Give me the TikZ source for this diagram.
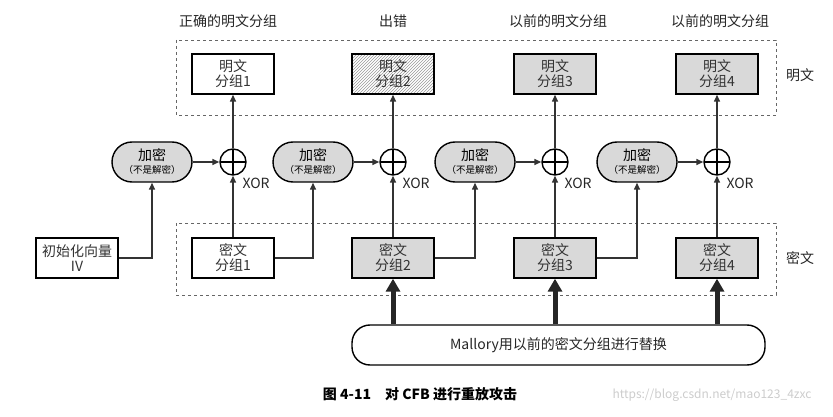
\documentclass[tikz,border=0pt]{standalone}
\usepackage{fontspec}
\setmainfont{Noto Sans CJK SC}
\usetikzlibrary{arrows.meta,patterns,shapes.geometric}
\begin{document}
\begin{tikzpicture}[x=1pt,y=-1pt,
  blk/.style={draw,line width=1.4pt,minimum width=82pt,minimum height=40pt,inner sep=0pt,align=center,font=\fontsize{14}{15}\selectfont,text=black!80},
  grey/.style={fill=black!15},
  enc/.style={draw,line width=1.4pt,fill=black!15,rounded corners=20pt,minimum width=80pt,minimum height=40pt,inner sep=0pt,align=center,font=\fontsize{14}{15}\selectfont},
  xr/.style={draw,circle,line width=1.4pt,minimum size=26pt,inner sep=0pt,path picture={\draw[line width=1.4pt] (path picture bounding box.north)--(path picture bounding box.south) (path picture bounding box.west)--(path picture bounding box.east);}},
  con/.style={line width=1.4pt,draw=black!80,-{Triangle[length=7pt,width=6pt]}},
  big/.style={line width=5pt,draw=black!85,-{Triangle[length=13pt,width=14pt]}},
  dbox/.style={draw=black!60,dashed,line width=0.6pt},
  lab/.style={font=\fontsize{14}{15}\selectfont,text=black!85}]
\useasboundingbox (0,0) rectangle (833,417);
\draw[dbox] (176,40) rectangle (776,115);
\draw[dbox] (176,223) rectangle (776,295);
\node[lab] (tm) at (800,75) {明文};
\node[lab] (tc) at (800,258) {密文};
\node[lab] (t1) at (228,21) {正确的明文分组};
\node[lab] (t2) at (393,21) {出错};
\node[lab] (t3) at (558,21) {以前的明文分组};
\node[lab] (t4) at (720,21) {以前的明文分组};
\node[blk] (p1) at (233,74) {明文\\分组1};
\node[blk,pattern=north east lines,pattern color=black!40] (p2) at (393,74) {明文\\分组2};
\node[blk,grey] (p3) at (555,74) {明文\\分组3};
\node[blk,grey] (p4) at (717,74) {明文\\分组4};
\node[blk] (iv) at (77,258) {初始化向量\\IV};
\node[blk] (c1) at (233,258) {密文\\分组1};
\node[blk,grey] (c2) at (393,258) {密文\\分组2};
\node[blk,grey] (c3) at (555,258) {密文\\分组3};
\node[blk,grey] (c4) at (717,258) {密文\\分组4};
\foreach \i/\x/\e in {1/233/152,2/393/313,3/555/475,4/717/637}{
  \node[xr] (x\i) at (\x,162) {};
  \node[lab,anchor=west] (xl\i) at (\x+6,183) {XOR};
  \node[enc] (e\i) at (\e,162) {加密\\[-2pt]{\fontsize{9.5}{10}\selectfont（不是解密）}};
  \draw[con] (e\i) -- (x\i);
  \draw[con] (x\i) -- (p\i);
  \draw[con] (c\i) -- (x\i);
}
\draw[con] (iv.east) -| (e1);
\draw[con] (c1.east) -| (e2);
\draw[con] (c2.east) -| (e3);
\draw[con] (c3.east) -| (e4);
\node[draw,line width=1.4pt,rounded corners=18pt,minimum width=413pt,minimum height=40pt,lab] (m) at (558.5,345) {Mallory用以前的密文分组进行替换};
\draw[big] (m.north -| c2) -- (c2);
\draw[big] (m.north -| c3) -- (c3);
\draw[big] (m.north -| c4) -- (c4);
\node[font=\fontsize{14}{15}\selectfont\bfseries] (cap) at (420,394) {图 4-11\quad 对 CFB 进行重放攻击};
\node[font=\fontsize{12}{13}\selectfont,text=black!20] (wm) at (712,395) {https://blog.csdn.net/mao123\_4zxc};
\end{tikzpicture}
\end{document}
